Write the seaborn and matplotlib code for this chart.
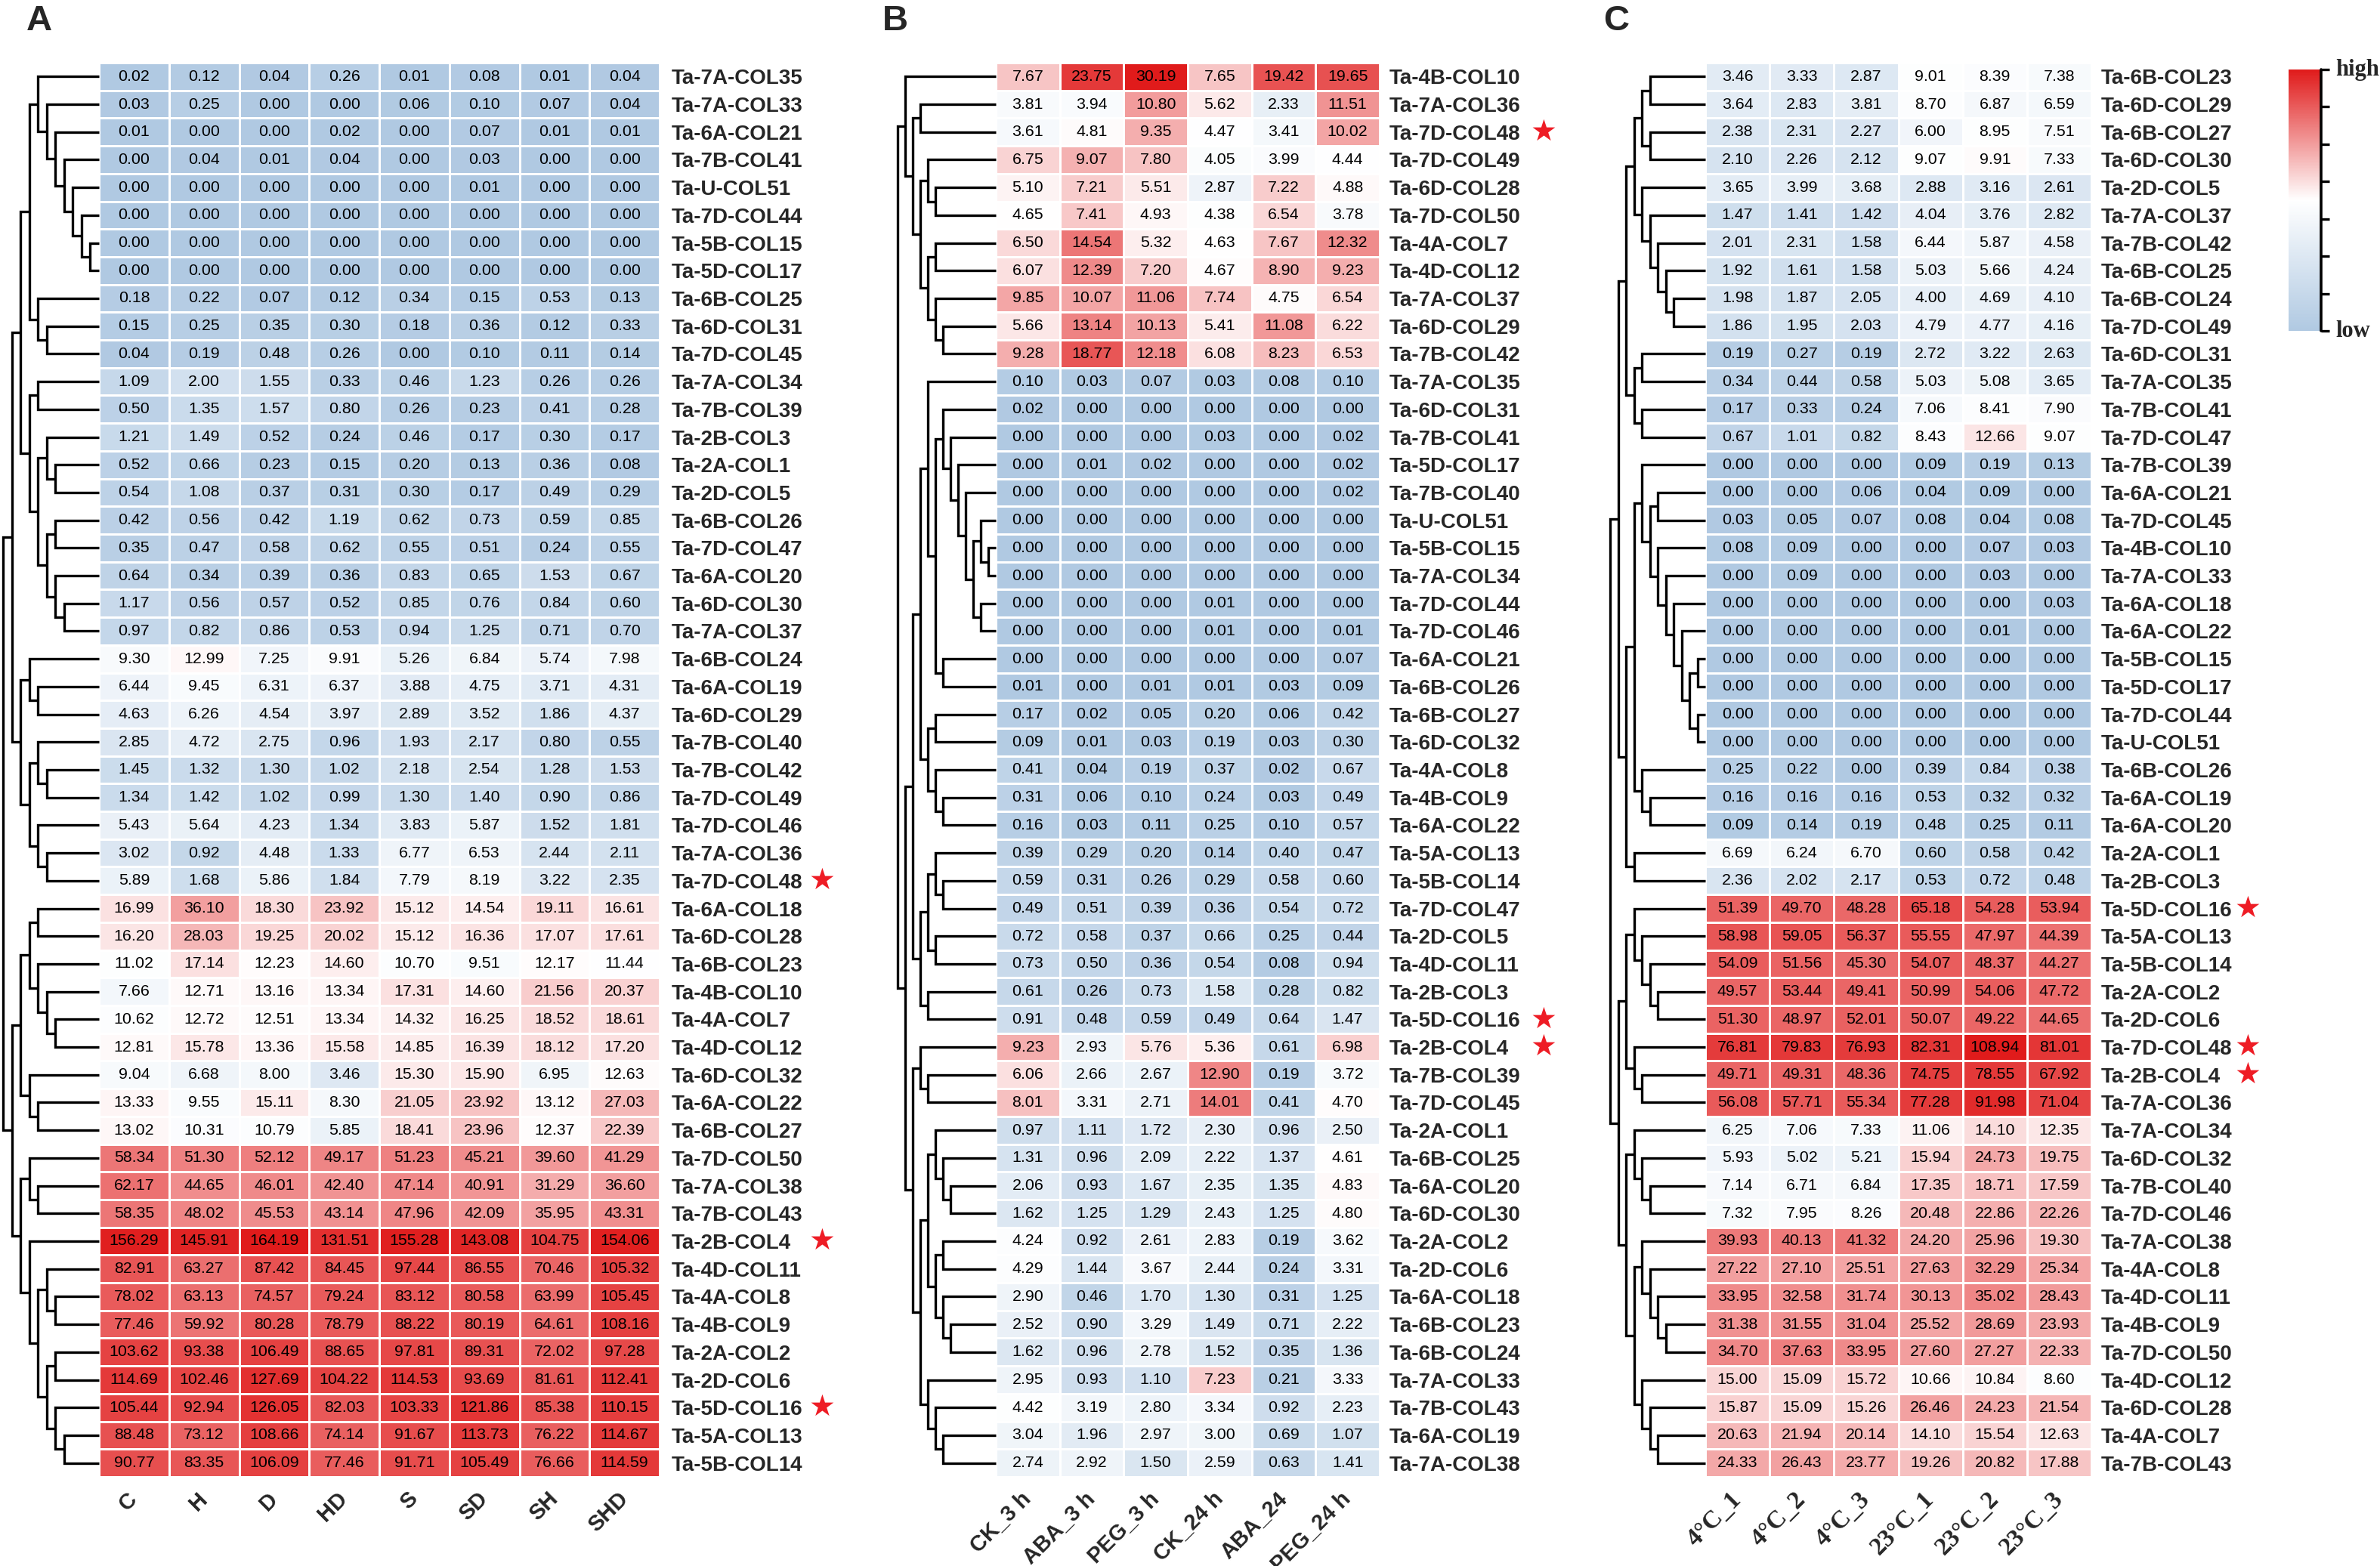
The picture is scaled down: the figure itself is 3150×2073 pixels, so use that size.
import numpy as np
import pandas as pd
import matplotlib
matplotlib.use('Agg')
import matplotlib.pyplot as plt
from matplotlib.colors import LinearSegmentedColormap, Normalize
from matplotlib.cm import ScalarMappable
import seaborn as sns

sns.set_style('white')
plt.rcParams['font.family'] = ['Liberation Sans', 'DejaVu Sans']

W, H = 3150, 2073

# ---------------- panel A : stress treatments ----------------
a_cols = ['C', 'H', 'D', 'HD', 'S', 'SD', 'SH', 'SHD']
a_rows = ['Ta-7A-COL35', 'Ta-7A-COL33', 'Ta-6A-COL21', 'Ta-7B-COL41', 'Ta-U-COL51', 'Ta-7D-COL44',
          'Ta-5B-COL15', 'Ta-5D-COL17', 'Ta-6B-COL25', 'Ta-6D-COL31', 'Ta-7D-COL45', 'Ta-7A-COL34',
          'Ta-7B-COL39', 'Ta-2B-COL3', 'Ta-2A-COL1', 'Ta-2D-COL5', 'Ta-6B-COL26', 'Ta-7D-COL47',
          'Ta-6A-COL20', 'Ta-6D-COL30', 'Ta-7A-COL37', 'Ta-6B-COL24', 'Ta-6A-COL19', 'Ta-6D-COL29',
          'Ta-7B-COL40', 'Ta-7B-COL42', 'Ta-7D-COL49', 'Ta-7D-COL46', 'Ta-7A-COL36', 'Ta-7D-COL48',
          'Ta-6A-COL18', 'Ta-6D-COL28', 'Ta-6B-COL23', 'Ta-4B-COL10', 'Ta-4A-COL7', 'Ta-4D-COL12',
          'Ta-6D-COL32', 'Ta-6A-COL22', 'Ta-6B-COL27', 'Ta-7D-COL50', 'Ta-7A-COL38', 'Ta-7B-COL43',
          'Ta-2B-COL4', 'Ta-4D-COL11', 'Ta-4A-COL8', 'Ta-4B-COL9', 'Ta-2A-COL2', 'Ta-2D-COL6',
          'Ta-5D-COL16', 'Ta-5A-COL13', 'Ta-5B-COL14']
a_vals = [
    [0.02, 0.12, 0.04, 0.26, 0.01, 0.08, 0.01, 0.04],
    [0.03, 0.25, 0.00, 0.00, 0.06, 0.10, 0.07, 0.04],
    [0.01, 0.00, 0.00, 0.02, 0.00, 0.07, 0.01, 0.01],
    [0.00, 0.04, 0.01, 0.04, 0.00, 0.03, 0.00, 0.00],
    [0.00, 0.00, 0.00, 0.00, 0.00, 0.01, 0.00, 0.00],
    [0.00, 0.00, 0.00, 0.00, 0.00, 0.00, 0.00, 0.00],
    [0.00, 0.00, 0.00, 0.00, 0.00, 0.00, 0.00, 0.00],
    [0.00, 0.00, 0.00, 0.00, 0.00, 0.00, 0.00, 0.00],
    [0.18, 0.22, 0.07, 0.12, 0.34, 0.15, 0.53, 0.13],
    [0.15, 0.25, 0.35, 0.30, 0.18, 0.36, 0.12, 0.33],
    [0.04, 0.19, 0.48, 0.26, 0.00, 0.10, 0.11, 0.14],
    [1.09, 2.00, 1.55, 0.33, 0.46, 1.23, 0.26, 0.26],
    [0.50, 1.35, 1.57, 0.80, 0.26, 0.23, 0.41, 0.28],
    [1.21, 1.49, 0.52, 0.24, 0.46, 0.17, 0.30, 0.17],
    [0.52, 0.66, 0.23, 0.15, 0.20, 0.13, 0.36, 0.08],
    [0.54, 1.08, 0.37, 0.31, 0.30, 0.17, 0.49, 0.29],
    [0.42, 0.56, 0.42, 1.19, 0.62, 0.73, 0.59, 0.85],
    [0.35, 0.47, 0.58, 0.62, 0.55, 0.51, 0.24, 0.55],
    [0.64, 0.34, 0.39, 0.36, 0.83, 0.65, 1.53, 0.67],
    [1.17, 0.56, 0.57, 0.52, 0.85, 0.76, 0.84, 0.60],
    [0.97, 0.82, 0.86, 0.53, 0.94, 1.25, 0.71, 0.70],
    [9.30, 12.99, 7.25, 9.91, 5.26, 6.84, 5.74, 7.98],
    [6.44, 9.45, 6.31, 6.37, 3.88, 4.75, 3.71, 4.31],
    [4.63, 6.26, 4.54, 3.97, 2.89, 3.52, 1.86, 4.37],
    [2.85, 4.72, 2.75, 0.96, 1.93, 2.17, 0.80, 0.55],
    [1.45, 1.32, 1.30, 1.02, 2.18, 2.54, 1.28, 1.53],
    [1.34, 1.42, 1.02, 0.99, 1.30, 1.40, 0.90, 0.86],
    [5.43, 5.64, 4.23, 1.34, 3.83, 5.87, 1.52, 1.81],
    [3.02, 0.92, 4.48, 1.33, 6.77, 6.53, 2.44, 2.11],
    [5.89, 1.68, 5.86, 1.84, 7.79, 8.19, 3.22, 2.35],
    [16.99, 36.10, 18.30, 23.92, 15.12, 14.54, 19.11, 16.61],
    [16.20, 28.03, 19.25, 20.02, 15.12, 16.36, 17.07, 17.61],
    [11.02, 17.14, 12.23, 14.60, 10.70, 9.51, 12.17, 11.44],
    [7.66, 12.71, 13.16, 13.34, 17.31, 14.60, 21.56, 20.37],
    [10.62, 12.72, 12.51, 13.34, 14.32, 16.25, 18.52, 18.61],
    [12.81, 15.78, 13.36, 15.58, 14.85, 16.39, 18.12, 17.20],
    [9.04, 6.68, 8.00, 3.46, 15.30, 15.90, 6.95, 12.63],
    [13.33, 9.55, 15.11, 8.30, 21.05, 23.92, 13.12, 27.03],
    [13.02, 10.31, 10.79, 5.85, 18.41, 23.96, 12.37, 22.39],
    [58.34, 51.30, 52.12, 49.17, 51.23, 45.21, 39.60, 41.29],
    [62.17, 44.65, 46.01, 42.40, 47.14, 40.91, 31.29, 36.60],
    [58.35, 48.02, 45.53, 43.14, 47.96, 42.09, 35.95, 43.31],
    [156.29, 145.91, 164.19, 131.51, 155.28, 143.08, 104.75, 154.06],
    [82.91, 63.27, 87.42, 84.45, 97.44, 86.55, 70.46, 105.32],
    [78.02, 63.13, 74.57, 79.24, 83.12, 80.58, 63.99, 105.45],
    [77.46, 59.92, 80.28, 78.79, 88.22, 80.19, 64.61, 108.16],
    [103.62, 93.38, 106.49, 88.65, 97.81, 89.31, 72.02, 97.28],
    [114.69, 102.46, 127.69, 104.22, 114.53, 93.69, 81.61, 112.41],
    [105.44, 92.94, 126.05, 82.03, 103.33, 121.86, 85.38, 110.15],
    [88.48, 73.12, 108.66, 74.14, 91.67, 113.73, 76.22, 114.67],
    [90.77, 83.35, 106.09, 77.46, 91.71, 105.49, 76.66, 114.59],
]
a_stars = ['Ta-7D-COL48', 'Ta-2B-COL4', 'Ta-5D-COL16']
# row clustering: (height, left, right), leaves = row number
a_tree = (11,
          (10,
           (9,
            (8, (7, 1, (6, 2, (5, 3, (4, 4, (3, 5, (2, 6, (1, 7, 8))))))), (7, 9, (6, 10, 11))),
            (8, (7, 12, 13), (7, (6, 14, (5, 15, 16)), (6, (5, 17, 18), (5, 19, (4, 20, 21)))))),
           (9, (8, 22, (7, 23, 24)), (8, (7, 25, (6, 26, 27)), (7, 28, (6, 29, 30))))),
          (10,
           (9, (8, (7, 31, 32), (7, 33, (6, 34, (5, 35, 36)))), (8, 37, (7, 38, 39))),
           (9, (8, 40, (7, 41, 42)),
            (8, 43, (7, (6, 44, (5, 45, 46)), (6, (5, 47, 48), (5, 49, (4, 50, 51))))))))

# ---------------- panel B : ABA / PEG ----------------
b_cols = ['CK_3 h', 'ABA_3 h', 'PEG_3 h', 'CK_24 h', 'ABA_24', 'PEG_24 h']
b_rows = ['Ta-4B-COL10', 'Ta-7A-COL36', 'Ta-7D-COL48', 'Ta-7D-COL49', 'Ta-6D-COL28', 'Ta-7D-COL50',
          'Ta-4A-COL7', 'Ta-4D-COL12', 'Ta-7A-COL37', 'Ta-6D-COL29', 'Ta-7B-COL42', 'Ta-7A-COL35',
          'Ta-6D-COL31', 'Ta-7B-COL41', 'Ta-5D-COL17', 'Ta-7B-COL40', 'Ta-U-COL51', 'Ta-5B-COL15',
          'Ta-7A-COL34', 'Ta-7D-COL44', 'Ta-7D-COL46', 'Ta-6A-COL21', 'Ta-6B-COL26', 'Ta-6B-COL27',
          'Ta-6D-COL32', 'Ta-4A-COL8', 'Ta-4B-COL9', 'Ta-6A-COL22', 'Ta-5A-COL13', 'Ta-5B-COL14',
          'Ta-7D-COL47', 'Ta-2D-COL5', 'Ta-4D-COL11', 'Ta-2B-COL3', 'Ta-5D-COL16', 'Ta-2B-COL4',
          'Ta-7B-COL39', 'Ta-7D-COL45', 'Ta-2A-COL1', 'Ta-6B-COL25', 'Ta-6A-COL20', 'Ta-6D-COL30',
          'Ta-2A-COL2', 'Ta-2D-COL6', 'Ta-6A-COL18', 'Ta-6B-COL23', 'Ta-6B-COL24', 'Ta-7A-COL33',
          'Ta-7B-COL43', 'Ta-6A-COL19', 'Ta-7A-COL38']
b_vals = [
    [7.67, 23.75, 30.19, 7.65, 19.42, 19.65],
    [3.81, 3.94, 10.80, 5.62, 2.33, 11.51],
    [3.61, 4.81, 9.35, 4.47, 3.41, 10.02],
    [6.75, 9.07, 7.80, 4.05, 3.99, 4.44],
    [5.10, 7.21, 5.51, 2.87, 7.22, 4.88],
    [4.65, 7.41, 4.93, 4.38, 6.54, 3.78],
    [6.50, 14.54, 5.32, 4.63, 7.67, 12.32],
    [6.07, 12.39, 7.20, 4.67, 8.90, 9.23],
    [9.85, 10.07, 11.06, 7.74, 4.75, 6.54],
    [5.66, 13.14, 10.13, 5.41, 11.08, 6.22],
    [9.28, 18.77, 12.18, 6.08, 8.23, 6.53],
    [0.10, 0.03, 0.07, 0.03, 0.08, 0.10],
    [0.02, 0.00, 0.00, 0.00, 0.00, 0.00],
    [0.00, 0.00, 0.00, 0.03, 0.00, 0.02],
    [0.00, 0.01, 0.02, 0.00, 0.00, 0.02],
    [0.00, 0.00, 0.00, 0.00, 0.00, 0.02],
    [0.00, 0.00, 0.00, 0.00, 0.00, 0.00],
    [0.00, 0.00, 0.00, 0.00, 0.00, 0.00],
    [0.00, 0.00, 0.00, 0.00, 0.00, 0.00],
    [0.00, 0.00, 0.00, 0.01, 0.00, 0.00],
    [0.00, 0.00, 0.00, 0.01, 0.00, 0.01],
    [0.00, 0.00, 0.00, 0.00, 0.00, 0.07],
    [0.01, 0.00, 0.01, 0.01, 0.03, 0.09],
    [0.17, 0.02, 0.05, 0.20, 0.06, 0.42],
    [0.09, 0.01, 0.03, 0.19, 0.03, 0.30],
    [0.41, 0.04, 0.19, 0.37, 0.02, 0.67],
    [0.31, 0.06, 0.10, 0.24, 0.03, 0.49],
    [0.16, 0.03, 0.11, 0.25, 0.10, 0.57],
    [0.39, 0.29, 0.20, 0.14, 0.40, 0.47],
    [0.59, 0.31, 0.26, 0.29, 0.58, 0.60],
    [0.49, 0.51, 0.39, 0.36, 0.54, 0.72],
    [0.72, 0.58, 0.37, 0.66, 0.25, 0.44],
    [0.73, 0.50, 0.36, 0.54, 0.08, 0.94],
    [0.61, 0.26, 0.73, 1.58, 0.28, 0.82],
    [0.91, 0.48, 0.59, 0.49, 0.64, 1.47],
    [9.23, 2.93, 5.76, 5.36, 0.61, 6.98],
    [6.06, 2.66, 2.67, 12.90, 0.19, 3.72],
    [8.01, 3.31, 2.71, 14.01, 0.41, 4.70],
    [0.97, 1.11, 1.72, 2.30, 0.96, 2.50],
    [1.31, 0.96, 2.09, 2.22, 1.37, 4.61],
    [2.06, 0.93, 1.67, 2.35, 1.35, 4.83],
    [1.62, 1.25, 1.29, 2.43, 1.25, 4.80],
    [4.24, 0.92, 2.61, 2.83, 0.19, 3.62],
    [4.29, 1.44, 3.67, 2.44, 0.24, 3.31],
    [2.90, 0.46, 1.70, 1.30, 0.31, 1.25],
    [2.52, 0.90, 3.29, 1.49, 0.71, 2.22],
    [1.62, 0.96, 2.78, 1.52, 0.35, 1.36],
    [2.95, 0.93, 1.10, 7.23, 0.21, 3.33],
    [4.42, 3.19, 2.80, 3.34, 0.92, 2.23],
    [3.04, 1.96, 2.97, 3.00, 0.69, 1.07],
    [2.74, 2.92, 1.50, 2.59, 0.63, 1.41],
]
b_stars = ['Ta-7D-COL48', 'Ta-5D-COL16', 'Ta-2B-COL4']
b_tree = (13,
          (12, 1, (11, (10, 2, 3),
                   (10, (9, 4, (8, 5, 6)), (9, (8, 7, 8), (8, 9, (7, 10, 11)))))),
          (12,
           (11,
            (10,
             (9, 12, (8, (7, 13, (6, 14, (5, 15, (4, 16, (3, (2, 17, (1, 18, 19)), (2, 20, 21)))))),
                      (7, 22, 23))),
             (9, (8, 24, 25), (8, 26, (7, 27, 28)))),
            (10, (9, (8, 29, (7, 30, 31)), (8, 32, 33)), (9, 34, 35))),
           (11,
            (10, 36, (9, 37, 38)),
            (10,
             (9, (8, 39, (7, 40, (6, 41, 42))), (8, (7, 43, 44), (7, 45, (6, 46, 47)))),
             (9, 48, (8, 49, (7, 50, 51)))))))

# ---------------- panel C : cold ----------------
c_cols = ['4°C_1', '4°C_2', '4°C_3', '23°C_1', '23°C_2', '23°C_3']
c_rows = ['Ta-6B-COL23', 'Ta-6D-COL29', 'Ta-6B-COL27', 'Ta-6D-COL30', 'Ta-2D-COL5', 'Ta-7A-COL37',
          'Ta-7B-COL42', 'Ta-6B-COL25', 'Ta-6B-COL24', 'Ta-7D-COL49', 'Ta-6D-COL31', 'Ta-7A-COL35',
          'Ta-7B-COL41', 'Ta-7D-COL47', 'Ta-7B-COL39', 'Ta-6A-COL21', 'Ta-7D-COL45', 'Ta-4B-COL10',
          'Ta-7A-COL33', 'Ta-6A-COL18', 'Ta-6A-COL22', 'Ta-5B-COL15', 'Ta-5D-COL17', 'Ta-7D-COL44',
          'Ta-U-COL51', 'Ta-6B-COL26', 'Ta-6A-COL19', 'Ta-6A-COL20', 'Ta-2A-COL1', 'Ta-2B-COL3',
          'Ta-5D-COL16', 'Ta-5A-COL13', 'Ta-5B-COL14', 'Ta-2A-COL2', 'Ta-2D-COL6', 'Ta-7D-COL48',
          'Ta-2B-COL4', 'Ta-7A-COL36', 'Ta-7A-COL34', 'Ta-6D-COL32', 'Ta-7B-COL40', 'Ta-7D-COL46',
          'Ta-7A-COL38', 'Ta-4A-COL8', 'Ta-4D-COL11', 'Ta-4B-COL9', 'Ta-7D-COL50', 'Ta-4D-COL12',
          'Ta-6D-COL28', 'Ta-4A-COL7', 'Ta-7B-COL43']
c_vals = [
    [3.46, 3.33, 2.87, 9.01, 8.39, 7.38],
    [3.64, 2.83, 3.81, 8.70, 6.87, 6.59],
    [2.38, 2.31, 2.27, 6.00, 8.95, 7.51],
    [2.10, 2.26, 2.12, 9.07, 9.91, 7.33],
    [3.65, 3.99, 3.68, 2.88, 3.16, 2.61],
    [1.47, 1.41, 1.42, 4.04, 3.76, 2.82],
    [2.01, 2.31, 1.58, 6.44, 5.87, 4.58],
    [1.92, 1.61, 1.58, 5.03, 5.66, 4.24],
    [1.98, 1.87, 2.05, 4.00, 4.69, 4.10],
    [1.86, 1.95, 2.03, 4.79, 4.77, 4.16],
    [0.19, 0.27, 0.19, 2.72, 3.22, 2.63],
    [0.34, 0.44, 0.58, 5.03, 5.08, 3.65],
    [0.17, 0.33, 0.24, 7.06, 8.41, 7.90],
    [0.67, 1.01, 0.82, 8.43, 12.66, 9.07],
    [0.00, 0.00, 0.00, 0.09, 0.19, 0.13],
    [0.00, 0.00, 0.06, 0.04, 0.09, 0.00],
    [0.03, 0.05, 0.07, 0.08, 0.04, 0.08],
    [0.08, 0.09, 0.00, 0.00, 0.07, 0.03],
    [0.00, 0.09, 0.00, 0.00, 0.03, 0.00],
    [0.00, 0.00, 0.00, 0.00, 0.00, 0.03],
    [0.00, 0.00, 0.00, 0.00, 0.01, 0.00],
    [0.00, 0.00, 0.00, 0.00, 0.00, 0.00],
    [0.00, 0.00, 0.00, 0.00, 0.00, 0.00],
    [0.00, 0.00, 0.00, 0.00, 0.00, 0.00],
    [0.00, 0.00, 0.00, 0.00, 0.00, 0.00],
    [0.25, 0.22, 0.00, 0.39, 0.84, 0.38],
    [0.16, 0.16, 0.16, 0.53, 0.32, 0.32],
    [0.09, 0.14, 0.19, 0.48, 0.25, 0.11],
    [6.69, 6.24, 6.70, 0.60, 0.58, 0.42],
    [2.36, 2.02, 2.17, 0.53, 0.72, 0.48],
    [51.39, 49.70, 48.28, 65.18, 54.28, 53.94],
    [58.98, 59.05, 56.37, 55.55, 47.97, 44.39],
    [54.09, 51.56, 45.30, 54.07, 48.37, 44.27],
    [49.57, 53.44, 49.41, 50.99, 54.06, 47.72],
    [51.30, 48.97, 52.01, 50.07, 49.22, 44.65],
    [76.81, 79.83, 76.93, 82.31, 108.94, 81.01],
    [49.71, 49.31, 48.36, 74.75, 78.55, 67.92],
    [56.08, 57.71, 55.34, 77.28, 91.98, 71.04],
    [6.25, 7.06, 7.33, 11.06, 14.10, 12.35],
    [5.93, 5.02, 5.21, 15.94, 24.73, 19.75],
    [7.14, 6.71, 6.84, 17.35, 18.71, 17.59],
    [7.32, 7.95, 8.26, 20.48, 22.86, 22.26],
    [39.93, 40.13, 41.32, 24.20, 25.96, 19.30],
    [27.22, 27.10, 25.51, 27.63, 32.29, 25.34],
    [33.95, 32.58, 31.74, 30.13, 35.02, 28.43],
    [31.38, 31.55, 31.04, 25.52, 28.69, 23.93],
    [34.70, 37.63, 33.95, 27.60, 27.27, 22.33],
    [15.00, 15.09, 15.72, 10.66, 10.84, 8.60],
    [15.87, 15.09, 15.26, 26.46, 24.23, 21.54],
    [20.63, 21.94, 20.14, 14.10, 15.54, 12.63],
    [24.33, 26.43, 23.77, 19.26, 20.82, 17.88],
]
c_stars = ['Ta-5D-COL16', 'Ta-7D-COL48', 'Ta-2B-COL4']
c_tree = (12,
          (11,
           (10,
            (9, (8, (7, 1, 2), (7, 3, 4)), (8, 5, (7, 6, (6, 7, (5, 8, (4, 9, 10)))))),
            (9, (8, 11, 12), (8, 13, 14))),
           (10,
            (9, (8, 15, (7, (6, 16, 17),
                         (6, 18, (5, 19, (4, 20, (3, 21, (2, (1, 22, 23), (1, 24, 25)))))))),
             (8, 26, (7, 27, 28))),
            (9, 29, 30))),
          (11,
           (10, (9, 31, (8, 32, (7, 33, (6, 34, 35)))), (9, 36, (8, 37, 38))),
           (10, (9, 39, (8, 40, (7, 41, 42))),
            (9, (8, 43, (7, 44, (6, 45, (5, 46, 47)))), (8, 48, (7, 49, (6, 50, 51)))))))

cmap = LinearSegmentedColormap.from_list('bwr_soft', ['#b0c9e2', '#ffffff', '#e01b1b'])


def box(x0, y0, w, h):
    # pixel box (top-left origin) -> figure fraction
    return [x0 / W, 1 - (y0 + h) / H, w / W, h / H]


def draw_tree(ax, node):
    if isinstance(node, int):
        return 0.0, node - 0.5
    h, left, right = node
    x1, y1 = draw_tree(ax, left)
    x2, y2 = draw_tree(ax, right)
    ax.plot([x1, h, h, x2], [y1, y1, y2, y2], color='black', lw=1.2,
            solid_capstyle='butt', solid_joinstyle='miter', clip_on=False)
    return h, (y1 + y2) / 2


def panel(fig, vals, rows, cols, tree, stars, hm_box, dendro_x, star_x, label_pad,
          xfont='Liberation Sans', xsize=10.5):
    df = pd.DataFrame(vals, index=rows, columns=cols)
    logged = np.log2(df + 1)
    x0, y0, w, h = hm_box
    ax = fig.add_axes(box(x0, y0, w, h))
    sns.heatmap(logged, ax=ax, cmap=cmap, vmin=0, vmax=logged.values.max(), cbar=False,
                annot=df.values, fmt='.2f', annot_kws={'fontsize': 7.7, 'color': 'black'},
                linewidths=1.0, linecolor='white', xticklabels=cols, yticklabels=rows)
    ax.yaxis.tick_right()
    ax.set_yticklabels(rows, rotation=0, fontsize=10, fontweight='bold', ha='left')
    ax.tick_params(axis='y', length=0, pad=label_pad)
    ax.set_xticklabels(cols, rotation=45, ha='right', va='center', rotation_mode='anchor',
                       fontsize=xsize, fontweight='bold', family=[xfont, 'DejaVu Sans'])
    ax.tick_params(axis='x', length=0, pad=9)
    ax.set_xlabel('')
    ax.set_ylabel('')

    # stars next to highlighted genes
    for name in stars:
        i = rows.index(name)
        fig.text(star_x / W, 1 - (y0 + (i + 0.5) * h / len(rows)) / H, '★', color='#ee1c25',
                 fontsize=14, ha='center', va='center', family='DejaVu Sans')

    # dendrogram
    d0, d1 = dendro_x
    dax = fig.add_axes(box(d0, y0, d1 - d0, h))
    draw_tree(dax, tree)
    dax.set_xlim(tree[0], 0)
    dax.set_ylim(len(rows), 0)
    dax.axis('off')
    return ax


fig = plt.figure(figsize=(W / 200, H / 200), dpi=200)

panel(fig, a_vals, a_rows, a_cols, a_tree, a_stars, (131, 83, 742, 1872), (4, 131), 1088, 5.5)
panel(fig, b_vals, b_rows, b_cols, b_tree, b_stars, (1318, 83, 508, 1872), (1188, 1318), 2043, 4.5)
panel(fig, c_vals, c_rows, c_cols, c_tree, c_stars, (2257, 83, 511, 1872), (2131, 2257), 2975, 4.5,
      xfont='Liberation Serif', xsize=12)

# panel letters
for letter, x in [('A', 35), ('B', 1168), ('C', 2122)]:
    fig.text(x / W, 1 - 6 / H, letter, fontsize=17, fontweight='bold', ha='left', va='top')

# colour key
cax = fig.add_axes(box(3029, 92, 43, 346))
cb = fig.colorbar(ScalarMappable(norm=Normalize(0, 1), cmap=cmap), cax=cax)
cb.outline.set_visible(False)
cb.set_ticks(np.linspace(0, 1, 8))
cb.set_ticklabels([''] * 8)
cax.tick_params(axis='y', length=4, width=1.2, color='black', direction='out')
cax.plot([1, 1], [0, 1], transform=cax.transAxes, color='black', lw=1.3, clip_on=False)
cax.text(1.45, 1.0, 'high', transform=cax.transAxes, ha='left', va='center', fontsize=11,
         fontweight='bold', family='Liberation Serif')
cax.text(1.45, 0.0, 'low', transform=cax.transAxes, ha='left', va='center', fontsize=11,
         fontweight='bold', family='Liberation Serif')

fig.savefig('out.png', dpi=200, facecolor='white')
